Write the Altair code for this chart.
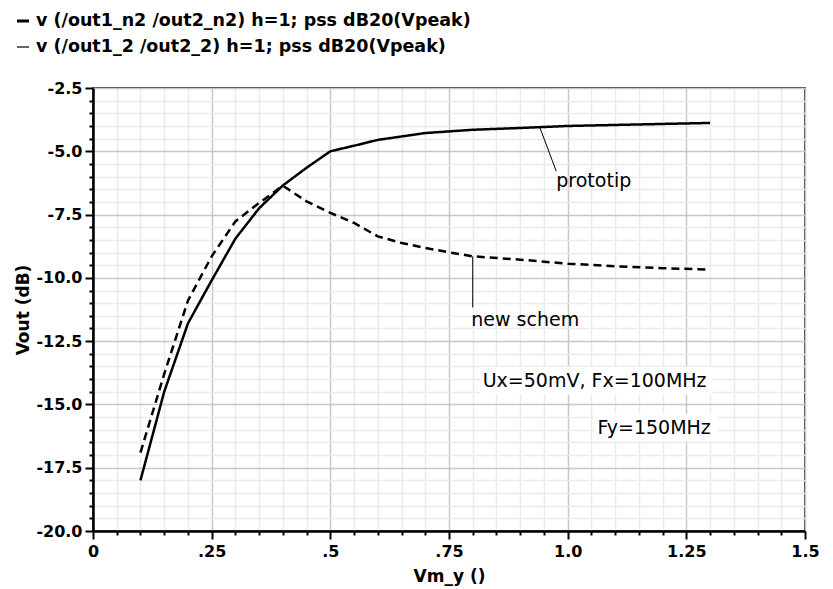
import altair as alt
import pandas as pd

# ---- data ----
proto_x = [0.10, 0.15, 0.20, 0.25, 0.30, 0.35, 0.40, 0.45, 0.50, 0.55, 0.60,
           0.70, 0.80, 0.90, 1.00, 1.10, 1.20, 1.30]
proto_y = [-18.0, -14.5, -11.8, -10.1, -8.45, -7.25, -6.35, -5.65, -5.0, -4.78,
           -4.55, -4.28, -4.15, -4.08, -4.0, -3.96, -3.92, -3.88]

new_x = [0.10, 0.15, 0.20, 0.25, 0.30, 0.35, 0.40, 0.45, 0.50, 0.55, 0.60,
         0.65, 0.70, 0.75, 0.80, 0.90, 1.00, 1.10, 1.20, 1.30]
new_y = [-16.9, -13.8, -10.9, -9.15, -7.77, -7.04, -6.36, -6.98, -7.43, -7.83,
         -8.36, -8.62, -8.82, -8.99, -9.15, -9.28, -9.44, -9.54, -9.62, -9.67]

series_names = ["prototip", "new schem"]
legend_labels = ["v (/out1_n2 /out2_n2) h=1; pss dB20(Vpeak)",
                 "v (/out1_2 /out2_2) h=1; pss dB20(Vpeak)"]

x_major = [0, 0.25, 0.5, 0.75, 1.0, 1.25, 1.5]
x_major_labels = ["0", ".25", ".5", ".75", "1.0", "1.25", "1.5"]
y_major = [-2.5, -5.0, -7.5, -10.0, -12.5, -15.0, -17.5, -20.0]
y_major_labels = ["-2.5", "-5.0", "-7.5", "-10.0", "-12.5", "-15.0", "-17.5", "-20.0"]
x_ticks = [round(i * 0.05, 2) for i in range(31)]
y_ticks = [round(-20 + i * 0.5, 1) for i in range(36)]

# annotation pointers (from point on curve to text)
ptr_x = [0.941, 0.976, 0.80, 0.80]
ptr_y = [-4.04, -5.79, -9.15, -11.17]
ptr_id = ["p", "p", "n", "n"]

ann_text = ["prototip", "new schem", "Ux=50mV, Fx=100MHz", "Fy=150MHz"]
ann_x = [0.976, 0.797, 0.821, 1.063]
ann_y = [-6.19, -11.65, -14.08, -15.92]

box_x = [0.816, 1.055]
box_x2 = [1.306, 1.318]
box_y = [-13.52, -15.38]
box_y2 = [-14.62, -16.44]

# ---- tables ----
df = pd.concat([
    pd.DataFrame({"x": proto_x, "y": proto_y, "s": series_names[0]}),
    pd.DataFrame({"x": new_x, "y": new_y, "s": series_names[1]}),
])
ptr_df = pd.DataFrame({"x": ptr_x, "y": ptr_y, "id": ptr_id})
ann_df = pd.DataFrame({"x": ann_x, "y": ann_y, "t": ann_text})
box_df = pd.DataFrame({"x": box_x, "x2": box_x2, "y": box_y, "y2": box_y2})
leg_df = pd.DataFrame({"t": legend_labels, "i": [0, 1]})


def label_expr(vals, labels):
    parts = [f"abs(datum.value - ({v})) < 1e-6 ? '{l}'" for v, l in zip(vals, labels)]
    return " : ".join(parts) + " : ''"


FONT = "DejaVu Sans"
W, H = 712, 443

xs = alt.Scale(domain=[0, 1.5], nice=False, zero=False)
ys = alt.Scale(domain=[-20, -2.5], nice=False, zero=False)

x_axis = alt.Axis(
    values=x_ticks, labelExpr=label_expr(x_major, x_major_labels),
    grid=True,
    gridColor={"condition": {"test": "abs(datum.value*4 - round(datum.value*4)) < 1e-6",
                             "value": "#c8c8c8"}, "value": "#ebebeb"},
    gridWidth=1.5,
    tickSize={"condition": {"test": "abs(datum.value*4 - round(datum.value*4)) < 1e-6",
                            "value": 8}, "value": 4},
    tickColor="black", tickWidth=2,
    domainColor="black", domainWidth=2.5,
    labelFont=FONT, labelFontWeight="bold", labelFontSize=16, labelColor="black",
    labelPadding=4, labelFlush=False, labelOverlap=False,
    title="Vm_y ()", titleFont=FONT, titleFontWeight="bold", titleFontSize=17,
    titleColor="black", titleX=W / 2, titleY=45, titleBaseline="middle",
    titleAlign="center",
)
y_axis = alt.Axis(
    values=y_ticks, labelExpr=label_expr(y_major, y_major_labels),
    grid=True,
    gridColor={"condition": {"test": "abs(datum.value/2.5 - round(datum.value/2.5)) < 1e-6",
                             "value": "#c8c8c8"}, "value": "#ebebeb"},
    gridWidth=1.5,
    tickSize={"condition": {"test": "abs(datum.value/2.5 - round(datum.value/2.5)) < 1e-6",
                            "value": 8}, "value": 4},
    tickColor="black", tickWidth=2,
    domainColor="black", domainWidth=2.5,
    labelFont=FONT, labelFontWeight="bold", labelFontSize=16, labelColor="black",
    labelPadding=3, labelOverlap=False,
    title="Vout (dB)", titleFont=FONT, titleFontWeight="bold", titleFontSize=17,
    titleColor="black", titleX=-70, titleY=H / 2, titleAngle=270,
    titleBaseline="middle", titleAlign="center",
)

X = alt.X("x:Q", scale=xs, axis=x_axis)
Y = alt.Y("y:Q", scale=ys, axis=y_axis)

lines = alt.Chart(df).mark_line(strokeWidth=2.5, color="black").encode(
    x=X, y=Y,
    detail="s:N",
    strokeDash=alt.StrokeDash("s:N", scale=alt.Scale(domain=series_names,
                                                      range=[[1, 0], [8, 5]]),
                              legend=None),
)

pointers = alt.Chart(ptr_df).mark_line(color="black", strokeWidth=1).encode(
    x=X, y=Y, detail="id:N",
)

boxes = alt.Chart(box_df).mark_rect(color="white").encode(
    x=X, x2="x2:Q", y=Y, y2="y2:Q",
)

texts = alt.Chart(ann_df).mark_text(
    align="left", baseline="middle", font=FONT, fontSize=19, color="black"
).encode(x=X, y=Y, text="t:N")

leg_style = dict(align="left", baseline="middle", font=FONT, fontSize=17.5,
                 fontWeight="bold", color="black")
leg_text1 = alt.Chart(leg_df).mark_text(**leg_style).encode(
    x=alt.value(-57), y=alt.value(-67), text="t:N",
).transform_filter("datum.i == 0")
leg_text2 = alt.Chart(leg_df).mark_text(**leg_style).encode(
    x=alt.value(-57), y=alt.value(-41), text="t:N",
).transform_filter("datum.i == 1")

leg_rule1 = alt.Chart(leg_df).mark_rule(color="black", strokeWidth=3).encode(
    x=alt.value(-76), x2=alt.value(-64), y=alt.value(-67)
).transform_filter("datum.i == 0")
leg_rule2 = alt.Chart(leg_df).mark_rule(color="black", strokeWidth=1.2).encode(
    x=alt.value(-76), x2=alt.value(-64), y=alt.value(-41)
).transform_filter("datum.i == 1")

chart = alt.layer(
    lines, boxes, pointers, texts, leg_rule1, leg_rule2, leg_text1, leg_text2
).properties(
    width=W, height=H,
    autosize=alt.AutoSizeParams(type="none"),
    padding={"left": 85, "top": 80, "right": 20, "bottom": 58},
    background="white",
).configure_view(stroke="black", strokeWidth=1.5)

chart.save("out.html", embed_options={"renderer": "svg", "actions": False})
